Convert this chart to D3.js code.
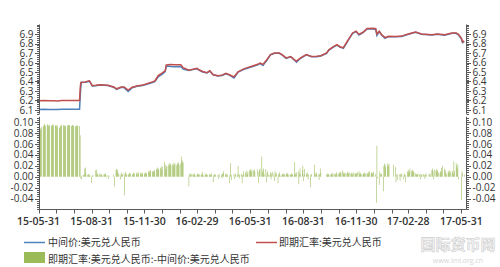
<!DOCTYPE html>
<html>
<head>
<meta charset="utf-8">
<script src="https://d3js.org/d3.v7.min.js"></script>
<style>
  body { margin: 0; background: #fff; }
  text { font-family: 'Open Sans', 'Liberation Sans', sans-serif; }
  .cjk { font-family: 'Noto Sans CJK SC', sans-serif; }
</style>
</head>
<body>
<div id="chart"></div>
<script>
// rates (mid = 中间价, spot = 即期汇率), sampled dates
var rateDates = ["2015-06-01","2015-06-10","2015-06-19","2015-06-26","2015-07-03","2015-07-10","2015-07-20","2015-07-30","2015-08-10","2015-08-11","2015-08-12","2015-08-13",
  "2015-08-20","2015-08-24","2015-08-27","2015-09-01","2015-09-07","2015-09-14","2015-09-21","2015-09-28","2015-10-08","2015-10-13","2015-10-21","2015-10-26",
  "2015-11-02","2015-11-09","2015-11-17","2015-11-27","2015-12-07","2015-12-14","2015-12-18","2015-12-24","2015-12-31",
  "2016-01-05","2016-01-07","2016-01-14","2016-01-22","2016-02-01","2016-02-05","2016-02-15","2016-02-22","2016-02-29","2016-03-04","2016-03-10","2016-03-17",
  "2016-03-22","2016-03-28","2016-04-05","2016-04-12","2016-04-19","2016-04-25","2016-05-03","2016-05-10","2016-05-19","2016-05-26","2016-06-03","2016-06-13",
  "2016-06-17","2016-06-22","2016-06-29","2016-07-05","2016-07-12","2016-07-20","2016-07-25","2016-08-01","2016-08-09","2016-08-15","2016-08-19","2016-08-26",
  "2016-09-05","2016-09-14","2016-09-23","2016-09-30","2016-10-10","2016-10-14","2016-10-21","2016-10-28","2016-11-02","2016-11-08","2016-11-15","2016-11-24",
  "2016-11-30","2016-12-05","2016-12-12","2016-12-19","2016-12-29",
  "2017-01-03","2017-01-05","2017-01-09","2017-01-13","2017-01-19","2017-01-25","2017-02-06","2017-02-17","2017-02-24","2017-03-08","2017-03-13","2017-03-23",
  "2017-04-10","2017-04-20","2017-05-02","2017-05-15","2017-05-22","2017-05-26","2017-05-31","2017-06-02","2017-06-05"];

var midRate = [6.106,6.107,6.104,6.106,6.106,6.107,6.107,6.108,6.107,6.229,6.331,6.390,
  6.392,6.398,6.403,6.352,6.356,6.362,6.360,6.357,6.340,6.318,6.338,6.336,
  6.296,6.335,6.350,6.358,6.376,6.390,6.398,6.450,6.478,
  6.505,6.564,6.558,6.556,6.557,6.530,6.515,6.525,6.535,6.518,6.500,6.490,
  6.510,6.470,6.458,6.462,6.482,6.468,6.436,6.500,6.525,6.540,6.556,6.575,
  6.590,6.568,6.626,6.680,6.697,6.697,6.680,6.644,6.660,6.626,6.604,6.644,
  6.680,6.660,6.660,6.668,6.697,6.730,6.760,6.784,6.762,6.750,6.820,6.907,
  6.925,6.890,6.914,6.953,6.955,
  6.945,6.885,6.925,6.890,6.855,6.872,6.872,6.874,6.890,6.910,6.918,6.897,
  6.890,6.897,6.888,6.907,6.907,6.890,6.850,6.810,6.820];

var spotRate = [6.198,6.199,6.198,6.198,6.195,6.199,6.199,6.199,6.200,6.320,6.386,6.393,
  6.395,6.404,6.408,6.356,6.360,6.366,6.364,6.361,6.343,6.323,6.341,6.342,
  6.310,6.340,6.353,6.362,6.381,6.396,6.405,6.462,6.490,
  6.512,6.575,6.578,6.577,6.576,6.545,6.518,6.530,6.540,6.521,6.505,6.492,
  6.513,6.471,6.461,6.467,6.486,6.471,6.449,6.502,6.530,6.546,6.561,6.581,
  6.594,6.580,6.631,6.684,6.700,6.701,6.683,6.648,6.662,6.630,6.615,6.648,
  6.683,6.664,6.665,6.672,6.700,6.734,6.765,6.788,6.766,6.756,6.825,6.911,
  6.930,6.896,6.918,6.959,6.960,
  6.955,6.900,6.930,6.895,6.862,6.877,6.875,6.878,6.893,6.914,6.921,6.900,
  6.893,6.901,6.892,6.911,6.911,6.896,6.858,6.816,6.826];

// spread (spot - mid) per business day from spreadStart, in 0.001; null = market closed
var spreadStart = "2015-06-01";
var spreadThousandths = [
  79,82,86,89,91, 92,94,97,95,93, 95,96,94,93,95, 94,92,95,96,94, 93,95,94,90,94,
  89,91,93,95,94, 94,95,93,94,92, 94,93,95,95,94, 93,94,95,94,93, 92,94,93,94,93,
  93,76,-3,-5,2, 4,3,15,17,6, 3,5,2,4,2, -11,2,3,null,null, 12,13,4,6,3,
  6,3,5,4,2, 4,5,3,6,2, 3,-4,2,null,null, null,null,null,4,-18, 12,14,9,13,6,
  4,-5,8,3,5, 6,-34,9,4,5, 5,3,7,4,6, 3,5,8,4,6, 7,5,4,9,6,
  5,8,6,4,7, 6,5,8,7,5, 9,11,8,12,10, 10,8,11,9,12, 14,12,17,15,13,
  16,19,13,18,null, 27,22,14,18,20, 22,25,20,24,21, 23,20,26,22,24, 21,25,23,26,22,
  24,37,30,28,26, null,null,null,null,null, -18,4,6,3,5, 5,3,6,4,2, 4,6,3,5,4,
  3,5,9,4,2, 6,3,4,5,3, 2,5,4,3,6, -10,3,5,2,4, null,3,-4,5,2,
  4,-3,6,5,10, 4,6,3,5,2, -12,3,25,4,-6, null,5,-4,3,6, 4,20,3,-3,5,
  5,-12,3,10,4, 8,3,11,5,9, 12,10,14,9,13, 11,13,10,null,null, 14,-12,9,12,15,
  37,8,12,15,5, 14,-10,6,10,4, 3,8,-5,6,9, 6,-8,10,4,7, -12,5,3,8,2,
  5,4,6,3,5, 4,6,5,7,3, 5,3,6,4,5, 4,27,6,3,8, 10,-14,6,15,4,
  12,20,-8,5,14, 6,3,8,-5,4, -19,5,4,null,null, 22,6,3,8,5, 4,-6,5,15,7,
  null,null,null,null,null, 4,6,3,5,4, 3,5,6,4,7, 5,3,6,8,4, 6,8,5,9,7,
  12,6,8,5,7, 6,9,5,7,8, 5,7,6,4,8, 6,5,7,6,8, 10,6,5,7,4,
  5,6,8,4,6, 7,5,9,6,10, 6,8,5,7,9, null,5,-48,57,-3, -15,10,4,6,5,
  -27,20,24,22,18, 21,25,19,23,null, null,null,null,null,22, 18,-10,3,5,-6, 4,-8,5,3,6,
  -5,4,6,-10,3, 10,8,12,9,15, 11,9,13,10,8, 6,4,5,3,6, 4,-5,5,3,4,
  5,3,-4,4,6, null,null,5,3,6, 12,15,10,-5,13, 11,14,9,12,8, 6,10,8,16,20,
  null,15,7,12,5, 8,10,6,12,9, 7,11,5,28,10, 25,20,15,22,-5, null,null,-43,10,6,
  4];

var xDomain = ["2015-05-31", "2017-06-08"];
var xMajorTicks = ["2015-05-31","2015-08-31","2015-11-30","2016-02-29","2016-05-31","2016-08-31","2016-11-30","2017-02-28","2017-05-31"];
var topTicks = [6.1,6.2,6.3,6.4,6.5,6.6,6.7,6.8,6.9];
var bottomTicks = [-0.04,-0.02,0.00,0.02,0.04,0.06,0.08,0.10];

var W = 500, H = 267;
var left = 38.5, right = 466;
var parse = d3.timeParse("%Y-%m-%d");
var fmt = d3.timeFormat("%y-%m-%d");

var svg = d3.select("#chart").append("svg")
    .attr("width", W).attr("height", H);

var x = d3.scaleTime()
    .domain(xDomain.map(parse))
    .range([left, right]);

var yTop = d3.scaleLinear().domain([6.05, 7.0]).range([114.75, 24.5]);
var yBot = d3.scaleLinear().domain([-0.06, 0.11]).range([209.4, 116.75]);

var rates = rateDates.map(function (d, i) {
    return { date: parse(d), mid: midRate[i], spot: spotRate[i] };
});

var spread = [];
var day = parse(spreadStart), i = 0;
while (i < spreadThousandths.length) {
    var wd = day.getDay();
    if (wd !== 0 && wd !== 6) {
        if (spreadThousandths[i] !== null) spread.push({ date: day, value: spreadThousandths[i] / 1000 });
        i++;
    }
    day = d3.timeDay.offset(day, 1);
}

// bars
var dayW = x(parse("2016-01-02")) - x(parse("2016-01-01"));
svg.append("g").selectAll("rect")
    .data(spread)
    .enter().append("rect")
    .attr("x", function (d) { return x(d.date) - dayW / 2; })
    .attr("width", dayW)
    .attr("y", function (d) { return yBot(Math.max(0, d.value)); })
    .attr("height", function (d) { return Math.abs(yBot(d.value) - yBot(0)); })
    .attr("fill", "#9bbb59");

// lines
var midLine = d3.line().x(function (d) { return x(d.date); }).y(function (d) { return yTop(d.mid); });
var spotLine = d3.line().x(function (d) { return x(d.date); }).y(function (d) { return yTop(d.spot); });
svg.append("path").datum(rates).attr("d", midLine)
    .attr("fill", "none").attr("stroke", "#4f81bd").attr("stroke-width", 1.5);
svg.append("path").datum(rates).attr("d", spotLine)
    .attr("fill", "none").attr("stroke", "#c0504d").attr("stroke-width", 1.5);

// y axes (major ticks with labels, minor ticks at major/5)
var axisColor = "#595959", textColor = "#333";
function yAxis(scale, lo, hi, step, labels, decimals, xpos, dir) {
    var g = svg.append("g");
    g.append("line").attr("x1", xpos).attr("x2", xpos)
        .attr("y1", scale(hi)).attr("y2", scale(lo))
        .attr("stroke", axisColor);
    var n = Math.round((hi - lo) / (step / 5));
    for (var k = 0; k <= n; k++) {
        var v = lo + k * step / 5;
        g.append("line").attr("x1", xpos).attr("x2", xpos + dir * 2.5)
            .attr("y1", Math.round(scale(v)) + 0.5).attr("y2", Math.round(scale(v)) + 0.5)
            .attr("stroke", axisColor);
    }
    labels.forEach(function (v) {
        g.append("line").attr("x1", xpos).attr("x2", xpos + dir * 4.5)
            .attr("y1", Math.round(scale(v)) + 0.5).attr("y2", Math.round(scale(v)) + 0.5)
            .attr("stroke", axisColor);
        g.append("text")
            .attr("x", xpos + dir * 6)
            .attr("y", scale(v))
            .attr("dy", "0.35em")
            .attr("text-anchor", dir < 0 ? "end" : "start")
            .attr("font-size", 10)
            .attr("fill", textColor)
            .text(v.toFixed(decimals));
    });
}
yAxis(yTop, 6.06, 7.0, 0.1, topTicks, 1, 39.5, -1);
yAxis(yBot, -0.06, 0.11, 0.02, bottomTicks, 2, 39.5, -1);
yAxis(yTop, 6.06, 7.0, 0.1, topTicks, 1, 466.5, 1);
yAxis(yBot, -0.06, 0.11, 0.02, bottomTicks, 2, 466.5, 1);

// x axis
var xg = svg.append("g");
xg.append("line").attr("x1", 39.5).attr("x2", 466.5).attr("y1", 209.5).attr("y2", 209.5).attr("stroke", axisColor);
var monthEnds = d3.timeMonth.range(parse("2015-06-01"), parse("2017-07-01"))
    .map(function (d) { return d3.timeDay.offset(d, -1); });
monthEnds.forEach(function (d) {
    var px = Math.round(x(d)) + 0.5;
    xg.append("line").attr("x1", px).attr("x2", px).attr("y1", 209.5).attr("y2", 213.5).attr("stroke", axisColor);
});
xMajorTicks.forEach(function (s) {
    var d = parse(s);
    xg.append("text")
        .attr("x", x(d)).attr("y", 225)
        .attr("text-anchor", "middle")
        .attr("font-size", 10.5)
        .attr("font-weight", 600)
        .attr("fill", textColor)
        .text(fmt(d));
});

// legend
var lg = svg.append("g").attr("class", "cjk");
lg.append("line").attr("x1", 24).attr("x2", 45).attr("y1", 242.5).attr("y2", 242.5)
    .attr("stroke", "#4f81bd").attr("stroke-width", 1.5);
lg.append("text").attr("class", "cjk").attr("x", 48).attr("y", 242.5).attr("dy", "0.35em")
    .attr("font-size", 10).attr("fill", textColor).text("中间价:美元兑人民币");
lg.append("line").attr("x1", 256).attr("x2", 277).attr("y1", 242.5).attr("y2", 242.5)
    .attr("stroke", "#c0504d").attr("stroke-width", 1.5);
lg.append("text").attr("class", "cjk").attr("x", 279).attr("y", 242.5).attr("dy", "0.35em")
    .attr("font-size", 10).attr("fill", textColor).text("即期汇率:美元兑人民币");
lg.append("rect").attr("x", 24).attr("y", 252).attr("width", 21).attr("height", 11)
    .attr("fill", "#9bbb59");
lg.append("text").attr("class", "cjk").attr("x", 48).attr("y", 259).attr("dy", "0.35em")
    .attr("font-size", 10).attr("fill", textColor).text("即期汇率:美元兑人民币:-中间价:美元兑人民币");

// watermark
svg.append("text").attr("class", "cjk")
    .attr("x", 458).attr("y", 250).attr("text-anchor", "middle")
    .attr("font-size", 15).attr("font-weight", 700)
    .attr("fill", "#f4f4f4").attr("stroke", "#cfcfcf").attr("stroke-width", 0.6)
    .text("国际货币网");
svg.append("text")
    .attr("x", 458).attr("y", 263).attr("text-anchor", "middle")
    .attr("font-size", 7).attr("fill", "#d5d5d5")
    .text("www.imi.org.cn");
</script>
</body>
</html>
